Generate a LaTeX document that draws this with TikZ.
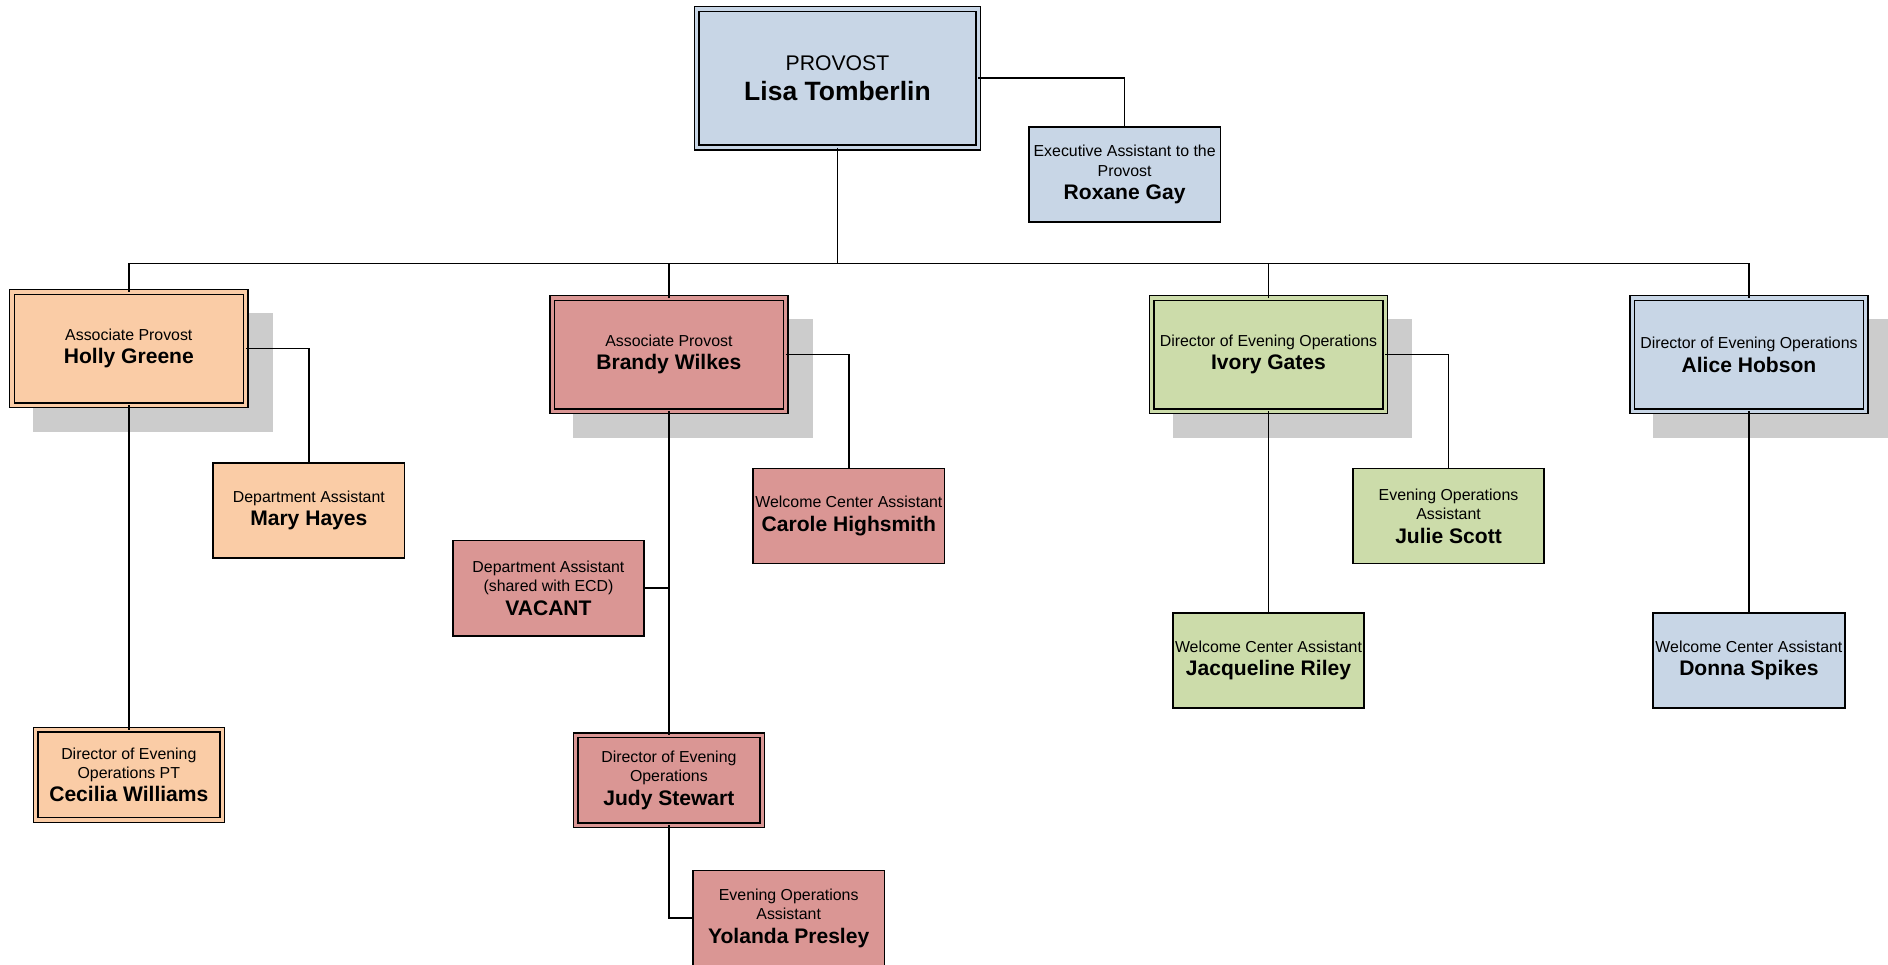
\documentclass[tikz,border=0pt]{standalone}
\usepackage{fontspec}
\setmainfont{Liberation Sans}
\usetikzlibrary{backgrounds}
\definecolor{cblue}{RGB}{200,214,230}
\definecolor{cpeach}{RGB}{250,204,166}
\definecolor{cpink}{RGB}{218,150,148}
\definecolor{cgreen}{RGB}{204,220,170}
\definecolor{cshadow}{RGB}{204,204,204}
\newcommand\nmb[1]{{\fontsize{17.5}{20}\selectfont\bfseries #1}}
\tikzset{
  every node/.style={inner sep=0pt, outer sep=0pt},
  txt/.style={align=center, font=\fontsize{13.2}{16}\selectfont},
  sbox/.style={txt, draw=black, line width=1.4pt, fill=#1, minimum width=159pt, minimum height=79pt},
  dbox/.style={txt, draw=black, line width=1.2pt, double=#1, double distance=2.6pt, fill=#1, minimum width=155pt, minimum height=75pt},
  bigbox/.style={dbox=#1, minimum width=194pt, minimum height=94pt},
  conn/.style={draw=black, line width=1.3pt},
}
\begin{document}
\begin{tikzpicture}[x=1pt, y=-1pt]
\useasboundingbox (0,0) rectangle (1568,801);

% top
\node[dbox=cblue, minimum width=234pt, minimum height=115pt, font=\fontsize{17.6}{21}\selectfont] (prov) at (695.5,65)
  {PROVOST\\[4.6pt]{\fontsize{22}{26}\selectfont\bfseries Lisa Tomberlin}};
\node[sbox=cblue] (exec) at (934,145) {Executive Assistant to the\\Provost\\[3.6pt]\nmb{Roxane Gay}};

% level 2
\node[bigbox=cpeach] (hg) at (107,289.5) {Associate Provost\\[3.6pt]\nmb{Holly Greene}};
\node[bigbox=cpink] (bw) at (555.5,294.5) {Associate Provost\\[3.6pt]\nmb{Brandy Wilkes}};
\node[bigbox=cgreen] (ig) at (1053.5,294.5) {Director of Evening Operations\\[3.6pt]\nmb{Ivory Gates}};
\node[bigbox=cblue] (ah) at (1452.5,294.5) {Director of Evening Operations\\[3.6pt]\nmb{Alice Hobson}};

% Holly's branch
\node[sbox=cpeach] (mh) at (256.5,424) {Department Assistant\\[3.6pt]\nmb{Mary Hayes}};
\node[dbox=cpeach] (cw) at (107,643.5) {Director of Evening\\Operations PT\\[3.6pt]\nmb{Cecilia Williams}};

% Brandy's branch
\node[sbox=cpink] (ch) at (705,428.5) {Welcome Center Assistant\\[3.6pt]\nmb{Carole Highsmith}};
\node[sbox=cpink] (va) at (455.5,488.5) {Department Assistant\\(shared with ECD)\\[3.6pt]\nmb{VACANT}};
\node[dbox=cpink] (js) at (555.5,648) {Director of Evening\\Operations\\[3.6pt]\nmb{Judy Stewart}};
\node[sbox=cpink] (yp) at (655,762.5) {Evening Operations\\Assistant\\[3.6pt]\nmb{Yolanda Presley}};

% Ivory's branch
\node[sbox=cgreen] (jsc) at (1203,428.5) {Evening Operations\\Assistant\\[3.6pt]\nmb{Julie Scott}};
\node[sbox=cgreen] (jr) at (1053.5,548.5) {Welcome Center Assistant\\[3.6pt]\nmb{Jacqueline Riley}};

% Alice's branch
\node[sbox=cblue] (ds) at (1452.5,548.5) {Welcome Center Assistant\\[3.6pt]\nmb{Donna Spikes}};

% shadows
\begin{scope}[on background layer]
\foreach \n in {hg,bw,ig,ah}{
  \fill[cshadow] ([xshift=17.5pt,yshift=-22.5pt]\n.south west) rectangle ([xshift=22.5pt,yshift=-17.5pt]\n.north east);
}
\end{scope}

% connectors
\coordinate (bus) at (695.5,219);
\draw[conn] (prov.east) -| (exec.north);
\draw[conn] (prov.south) -- (bus);
\draw[conn] (hg.north) -- (hg.north |- bus) -- (ah.north |- bus) -- (ah.north);
\draw[conn] (bw.north) -- (bw.north |- bus);
\draw[conn] (ig.north) -- (ig.north |- bus);

\draw[conn] (hg.east) -| (mh.north);
\draw[conn] (hg.south) -- (cw.north);

\draw[conn] (bw.east) -| (ch.north);
\draw[conn] (bw.south) -- (js.north);
\draw[conn] (va.east) -- (va.east -| bw.south);
\draw[conn] (js.south) |- (yp.west);

\draw[conn] (ig.east) -| (jsc.north);
\draw[conn] (ig.south) -- (jr.north);

\draw[conn] (ah.south) -- (ds.north);
\end{tikzpicture}
\end{document}
